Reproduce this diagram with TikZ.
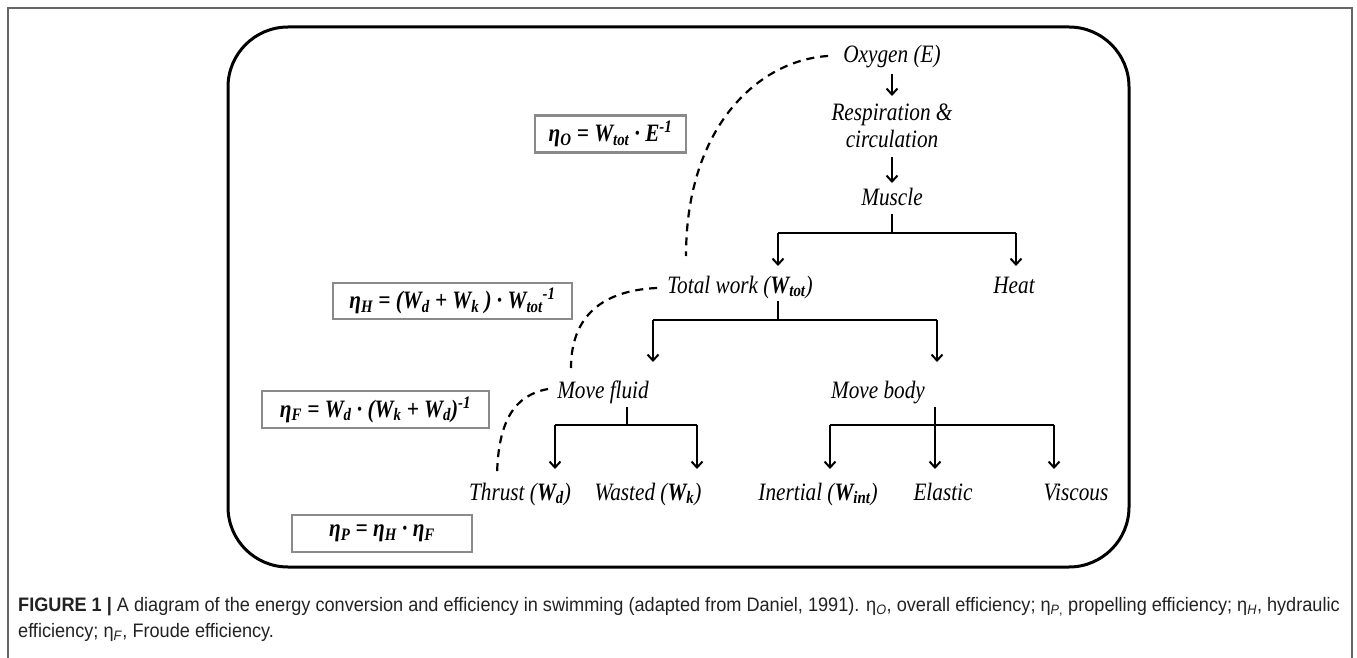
\documentclass[tikz,border=0pt]{standalone}
\usepackage{fontspec}
\setmainfont[FakeStretch=0.85]{Liberation Serif}
\newfontfamily\capfont[FakeStretch=0.93]{Liberation Sans}
\usetikzlibrary{arrows.meta}
\definecolor{boxgray}{HTML}{8A8A8A}
\definecolor{framegray}{HTML}{666666}
\definecolor{captext}{HTML}{222222}
\begin{document}
\begin{tikzpicture}[x=1pt,y=-1pt,
  lbl/.style={font=\fontsize{25}{27}\selectfont\itshape, inner sep=0pt, anchor=base, align=center},
  frm/.style={draw=boxgray, line width=2.6pt, inner sep=0pt, font=\fontsize{25}{26}\selectfont\bfseries\itshape},
  arr/.style={line width=2pt, -{Straight Barb[length=6pt,width=11pt,line width=2pt]}},
  ln/.style={line width=2pt},
  dsh/.style={line width=2.2pt, dash pattern=on 8pt off 6pt},
  captxt/.style={anchor=base west, inner sep=0pt, text=captext, font=\capfont\fontsize{19.5}{20}\selectfont}]
\useasboundingbox (0,0) rectangle (1357,658);
\fill[white] (0,0) rectangle (1357,658);
\draw[framegray, line width=1.3pt] (8,658) -- (8,8) -- (1352,8) -- (1352,658);
\draw[line width=3pt, rounded corners=60pt] (228,27) rectangle (1129,567);

% labels
\node[lbl] (oxy) at (892,63) {Oxygen (E)};
\node[lbl] (resp) at (892,147) {Respiration \&\\circulation};
\node[lbl] (muscle) at (892,205) {Muscle};
\node[lbl] (total) at (740,293) {Total work (\textbf{W\textsubscript{tot}})};
\node[lbl] (heat) at (1014,293) {Heat};
\node[lbl] (fluid) at (603,398) {Move fluid};
\node[lbl] (body) at (878,398) {Move body};
\node[lbl] (thrust) at (520,500) {Thrust (\textbf{W\textsubscript{d}})};
\node[lbl] (wasted) at (648,500) {Wasted (\textbf{W\textsubscript{k}})};
\node[lbl] (inertial) at (818,500) {Inertial (\textbf{W\textsubscript{int}})};
\node[lbl] (elastic) at (943,500) {Elastic};
\node[lbl] (viscous) at (1076,500) {Viscous};

% formula boxes
\node[frm, minimum width=151pt, minimum height=37pt] (etaO) at (610.5,134) {η\textsubscript{O} = W\textsubscript{tot} · E\textsuperscript{-1}};
\node[frm, minimum width=239pt, minimum height=36pt] (etaH) at (452.5,301) {η\textsubscript{H} = (W\textsubscript{d} + W\textsubscript{k} ) · W\textsubscript{tot}\textsuperscript{-1}};
\node[frm, minimum width=227pt, minimum height=37pt] (etaF) at (375.5,409.5) {η\textsubscript{F} = W\textsubscript{d} · (W\textsubscript{k} + W\textsubscript{d})\textsuperscript{-1}};
\node[frm, minimum width=180pt, minimum height=37pt] (etaP) at (382,533.5) {η\textsubscript{P} = η\textsubscript{H} · η\textsubscript{F}};

% junction coordinates
\coordinate (mL) at (778,233);
\coordinate (mR) at (1016,233);
\coordinate (tL) at (653,320);
\coordinate (tR) at (937,320);
\coordinate (fS) at (627,425);
\coordinate (fL) at (555,425);
\coordinate (fR) at (697,425);
\coordinate (bS) at (935,425);
\coordinate (bL) at (830,425);
\coordinate (bR) at (1054,425);

% connectors
\draw[arr] ([yshift=-11pt]oxy.base) -- ([yshift=51pt]resp.base);
\draw[arr] ([yshift=-10pt]resp.base) -- ([yshift=22pt]muscle.base);
\draw[ln] ([yshift=-9pt]muscle.base) -- (muscle.base |- mL);
\draw[ln] (mL) -- (mR);
\draw[arr] (mL) -- ([yshift=27pt]mL |- total.base);
\draw[arr] (mR) -- ([yshift=27pt]mR |- heat.base);
\draw[ln] ([yshift=-8pt]mL |- total.base) -- (mL |- tL);
\draw[ln] (tL) -- (tR);
\draw[arr] (tL) -- ([yshift=36pt]tL |- fluid.base);
\draw[arr] (tR) -- ([yshift=36pt]tR |- body.base);
\draw[ln] ([yshift=-9pt]fS |- fluid.base) -- (fS);
\draw[ln] (fL) -- (fR);
\draw[arr] (fL) -- ([yshift=31pt]fL |- thrust.base);
\draw[arr] (fR) -- ([yshift=31pt]fR |- wasted.base);
\draw[ln] ([yshift=-9pt]bS |- body.base) -- (bS);
\draw[ln] (bL) -- (bR);
\draw[arr] (bL) -- ([yshift=31pt]bL |- inertial.base);
\draw[arr] (bS) -- ([yshift=31pt]bS |- elastic.base);
\draw[arr] (bR) -- ([yshift=31pt]bR |- viscous.base);

% dashed links
\coordinate (d1e) at (686,256);
\coordinate (d2e) at (571,368);
\coordinate (d3e) at (497,476);
\draw[dsh] ([xshift=-15pt,yshift=7pt]oxy.base west) .. controls (760,60) and (686,125) .. (d1e);
\draw[dsh] ([xshift=-10pt,yshift=5pt]total.base west) .. controls (610,290) and (571,310) .. (d2e);
\draw[dsh] ([xshift=-9pt,yshift=9pt]fluid.base west) .. controls (515,395) and (498,420) .. (d3e);

% caption
\node[captxt] (cap1) at (18,611) {\textbf{FIGURE 1 |} A diagram of the energy conversion and efficiency in swimming (adapted from Daniel, 1991). η\textsubscript{\textit{O}}, overall efficiency; η\textsubscript{\textit{P},} propelling efficiency; η\textsubscript{\textit{H}}, hydraulic};
\node[captxt] (cap2) at (18,637) {efficiency; η\textsubscript{\textit{F}}, Froude efficiency.};
\end{tikzpicture}
\end{document}
